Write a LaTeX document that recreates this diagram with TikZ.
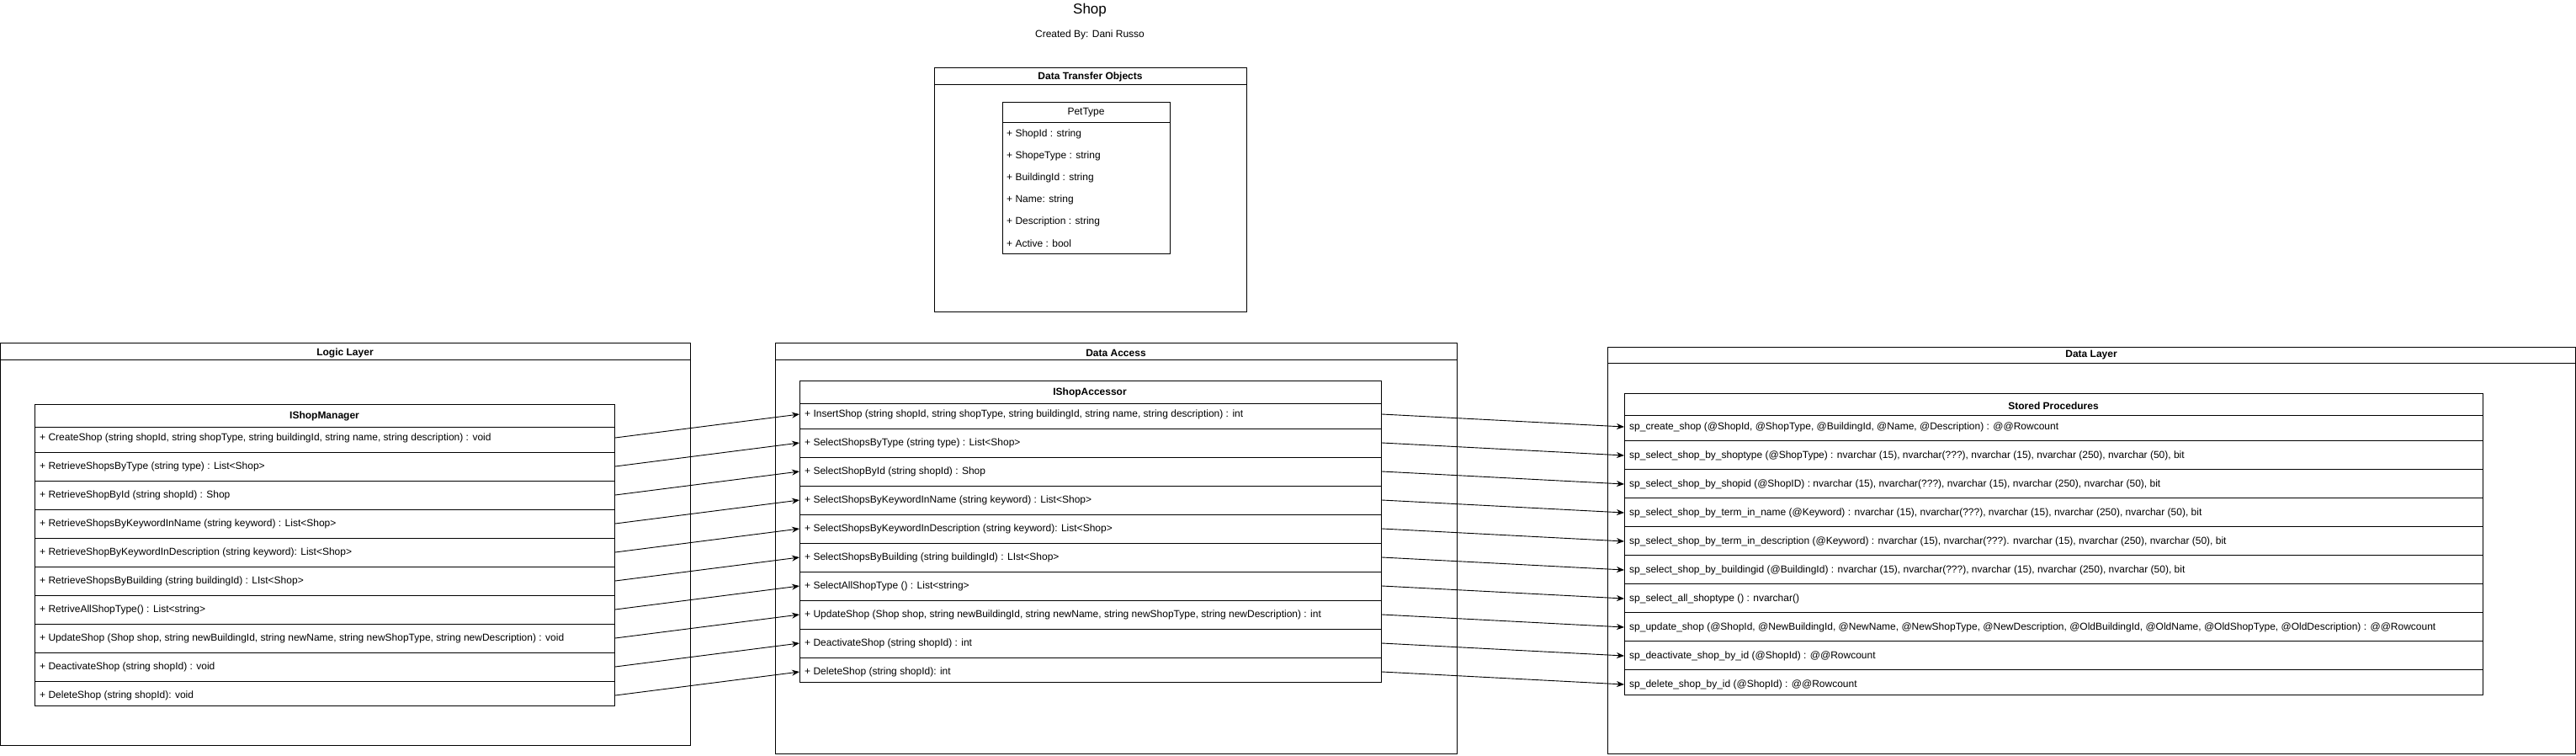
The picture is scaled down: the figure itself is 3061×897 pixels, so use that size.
\documentclass[tikz,border=0pt]{standalone}
\usepackage{fontspec}
\setmainfont{Liberation Sans}
\usetikzlibrary{arrows.meta}

\tikzset{
  box/.style={line width=1pt},
  txt/.style={font=\fontsize{12}{14}\selectfont, inner sep=0pt, anchor=west},
  hdr/.style={font=\fontsize{12}{14}\selectfont\bfseries, inner sep=0pt},
  frame/.style={draw, line width=1pt, anchor=north west, inner sep=0pt},
  link/.style={line width=0.9pt, -{Stealth[length=9pt,width=7pt]}}
}

\begin{document}
\begin{tikzpicture}[x=1pt, y=-1pt]
    \useasboundingbox (0,0) rectangle (3061,897);

    % Title
    \node[font=\fontsize{17}{20}\selectfont, inner sep=0pt] (title) at (1295,12) {Shop};
    \node[txt, anchor=center] (credit) at (1295,41) {Created By: Dani Russo};

    % Data Transfer Objects package
    \draw[box] (1110,80) rectangle (1481,370);
    \draw[box] (1110,100) -- (1481,100);
    \node[hdr] (dtohdr) at (1295.5,91) {Data Transfer Objects};

    % PetType class
    \node[frame, minimum width=199pt, minimum height=180pt] (pet) at (1191,121) {};
    \draw[box] (1191,145) -- (1390,145);
    \node[txt, anchor=center] (pethdr) at (1290.5,134) {PetType};
    \node[txt] (pet1) at (1196,159) {+ ShopId : string};
    \node[txt] (pet2) at (1196,185) {+ ShopeType : string};
    \node[txt] (pet3) at (1196,211) {+ BuildingId : string};
    \node[txt] (pet4) at (1196,237) {+ Name: string};
    \node[txt] (pet5) at (1196,263) {+ Description : string};
    \node[txt] (pet6) at (1196,289) {+ Active : bool};

    % Logic Layer package
    \draw[box] (0.6,407) rectangle (820,885);
    \draw[box] (0.6,427) -- (820,427);
    \node[hdr] (logichdr) at (410,419) {Logic Layer};

    % IShopManager interface
    \node[frame, minimum width=689pt, minimum height=358pt] (mgr) at (41,480) {};
    \draw[box] (41,507) -- (730,507);
    \foreach \y in {537,571,...,809} \draw[box] (41,\y) -- (730,\y);
    \node[hdr] (mgrhdr) at (385.5,494) {IShopManager};
    \node[txt] (mgr1) at (47,520) {+ CreateShop (string shopId, string shopType, string buildingId, string name, string description) : void};
    \node[txt] (mgr2) at (47,554) {+ RetrieveShopsByType (string type) : List<Shop>};
    \node[txt] (mgr3) at (47,588) {+ RetrieveShopById (string shopId) : Shop};
    \node[txt] (mgr4) at (47,622) {+ RetrieveShopsByKeywordInName (string keyword) : List<Shop>};
    \node[txt] (mgr5) at (47,656) {+ RetrieveShopByKeywordInDescription (string keyword): List<Shop>};
    \node[txt] (mgr6) at (47,690) {+ RetrieveShopsByBuilding (string buildingId) : LIst<Shop>};
    \node[txt] (mgr7) at (47,724) {+ RetriveAllShopType() : List<string>};
    \node[txt] (mgr8) at (47,758) {+ UpdateShop (Shop shop, string newBuildingId, string newName, string newShopType, string newDescription) : void};
    \node[txt] (mgr9) at (47,792) {+ DeactivateShop (string shopId) : void};
    \node[txt] (mgr10) at (47,826) {+ DeleteShop (string shopId): void};

    % Data Access package
    \draw[box] (921,407) rectangle (1731,895);
    \draw[box] (921,427) -- (1731,427);
    \node[hdr] (accesshdr) at (1326,419) {Data Access};

    % IShopAccessor interface
    \node[frame, minimum width=691pt, minimum height=358pt] (acc) at (950,452) {};
    \draw[box] (950,479) -- (1641,479);
    \foreach \y in {509,543,...,781} \draw[box] (950,\y) -- (1641,\y);
    \node[hdr] (acchdr) at (1295,466) {IShopAccessor};
    \node[txt] (acc1) at (956,492) {+ InsertShop (string shopId, string shopType, string buildingId, string name, string description) : int};
    \node[txt] (acc2) at (956,526) {+ SelectShopsByType (string type) : List<Shop>};
    \node[txt] (acc3) at (956,560) {+ SelectShopById (string shopId) : Shop};
    \node[txt] (acc4) at (956,594) {+ SelectShopsByKeywordInName (string keyword) : List<Shop>};
    \node[txt] (acc5) at (956,628) {+ SelectShopsByKeywordInDescription (string keyword): List<Shop>};
    \node[txt] (acc6) at (956,662) {+ SelectShopsByBuilding (string buildingId) : LIst<Shop>};
    \node[txt] (acc7) at (956,696) {+ SelectAllShopType () : List<string>};
    \node[txt] (acc8) at (956,730) {+ UpdateShop (Shop shop, string newBuildingId, string newName, string newShopType, string newDescription) : int};
    \node[txt] (acc9) at (956,764) {+ DeactivateShop (string shopId) : int};
    \node[txt] (acc10) at (956,798) {+ DeleteShop (string shopId): int};

    % Data Layer package
    \draw[box] (1910,412) rectangle (3060,895);
    \draw[box] (1910,431) -- (3060,431);
    \node[hdr] (datahdr) at (2485,422) {Data Layer};

    % Stored procedures
    \node[frame, minimum width=1020pt, minimum height=358pt] (sp) at (1930,467) {};
    \draw[box] (1930,493) -- (2950,493);
    \foreach \y in {523,557,...,795} \draw[box] (1930,\y) -- (2950,\y);
    \node[hdr] (sphdr) at (2440,482) {Stored Procedures};
    \node[txt] (sp1) at (1936,507) {sp\_create\_shop (@ShopId, @ShopType, @BuildingId, @Name, @Description) : @@Rowcount};
    \node[txt] (sp2) at (1936,541) {sp\_select\_shop\_by\_shoptype (@ShopType) : nvarchar (15), nvarchar(???), nvarchar (15), nvarchar (250), nvarchar (50), bit};
    \node[txt] (sp3) at (1936,575) {sp\_select\_shop\_by\_shopid (@ShopID) : nvarchar (15), nvarchar(???), nvarchar (15), nvarchar (250), nvarchar (50), bit};
    \node[txt] (sp4) at (1936,609) {sp\_select\_shop\_by\_term\_in\_name (@Keyword) : nvarchar (15), nvarchar(???), nvarchar (15), nvarchar (250), nvarchar (50), bit};
    \node[txt] (sp5) at (1936,643) {sp\_select\_shop\_by\_term\_in\_description (@Keyword) : nvarchar (15), nvarchar(???). nvarchar (15), nvarchar (250), nvarchar (50), bit};
    \node[txt] (sp6) at (1936,677) {sp\_select\_shop\_by\_buildingid (@BuildingId) : nvarchar (15), nvarchar(???), nvarchar (15), nvarchar (250), nvarchar (50), bit};
    \node[txt] (sp7) at (1936,711) {sp\_select\_all\_shoptype () : nvarchar()};
    \node[txt] (sp8) at (1936,745) {sp\_update\_shop (@ShopId, @NewBuildingId, @NewName, @NewShopType, @NewDescription, @OldBuildingId, @OldName, @OldShopType, @OldDescription) : @@Rowcount};
    \node[txt] (sp9) at (1936,779) {sp\_deactivate\_shop\_by\_id (@ShopId) : @@Rowcount};
    \node[txt] (sp10) at (1936,813) {sp\_delete\_shop\_by\_id (@ShopId) : @@Rowcount};

    % Calls between layers
    \foreach \i in {1,...,10} \draw[link] (mgr.east |- mgr\i) -- (acc.west |- acc\i);
    \foreach \i in {1,...,10} \draw[link] (acc.east |- acc\i) -- (sp.west |- sp\i);
\end{tikzpicture}
\end{document}
